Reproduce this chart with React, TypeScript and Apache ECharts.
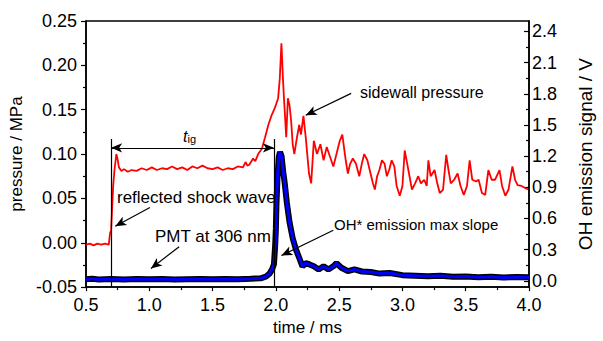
import React, { useEffect, useRef } from "react";
import * as echarts from "echarts";

// sidewall pressure (MPa) vs time (ms)
const redT = [0.5,0.53,0.56,0.59,0.62,0.65,0.68,0.688,0.692,0.698,0.705,0.715,0.725,0.74,0.75,0.76,0.78,0.8,0.83,0.86,0.9,0.94,0.98,1.02,1.06,1.1,1.14,1.18,1.22,1.26,1.3,1.34,1.38,1.42,1.46,1.5,1.54,1.58,1.62,1.66,1.7,1.74,1.76,1.775,1.79,1.82,1.838,1.86,1.89,1.915,1.941,1.967,1.992,2.018,2.031,2.044,2.056,2.064,2.082,2.095,2.108,2.121,2.133,2.146,2.167,2.185,2.198,2.218,2.236,2.262,2.279,2.3,2.325,2.352,2.377,2.402,2.428,2.454,2.479,2.505,2.525,2.552,2.569,2.587,2.608,2.633,2.659,2.679,2.698,2.723,2.748,2.767,2.782,2.8,2.818,2.838,2.859,2.877,2.895,2.915,2.936,2.954,2.979,3.0,3.018,3.038,3.056,3.075,3.1,3.125,3.146,3.172,3.192,3.205,3.223,3.254,3.275,3.295,3.321,3.346,3.364,3.382,3.408,3.436,3.459,3.485,3.51,3.531,3.552,3.582,3.602,3.628,3.654,3.679,3.705,3.731,3.767,3.787,3.813,3.838,3.869,3.89,3.91,3.941,3.967,3.992];
const redP = [-0.002,-0.001,-0.003,-0.001,-0.002,-0.001,-0.002,0.008,0.012,0.013,0.035,0.065,0.082,0.1,0.094,0.085,0.081,0.083,0.08,0.082,0.081,0.084,0.082,0.085,0.082,0.084,0.083,0.086,0.083,0.085,0.082,0.086,0.084,0.087,0.084,0.083,0.085,0.082,0.084,0.083,0.086,0.085,0.091,0.087,0.088,0.095,0.092,0.1,0.106,0.119,0.133,0.144,0.152,0.163,0.185,0.225,0.185,0.163,0.119,0.163,0.155,0.137,0.111,0.1,0.119,0.133,0.122,0.143,0.119,0.078,0.067,0.115,0.1,0.111,0.093,0.108,0.097,0.086,0.1,0.115,0.122,0.093,0.078,0.089,0.095,0.089,0.075,0.089,0.1,0.093,0.078,0.067,0.06,0.075,0.082,0.093,0.089,0.075,0.082,0.093,0.086,0.064,0.053,0.064,0.104,0.089,0.075,0.06,0.067,0.075,0.067,0.071,0.064,0.093,0.075,0.082,0.067,0.056,0.06,0.099,0.082,0.067,0.071,0.078,0.064,0.054,0.064,0.093,0.071,0.069,0.071,0.056,0.054,0.082,0.071,0.071,0.082,0.064,0.053,0.06,0.086,0.071,0.065,0.064,0.062,0.06];

// PMT OH* emission signal (V) vs time (ms)
const blueT = [0.5,0.55,0.6,0.7,0.8,0.9,1.0,1.1,1.2,1.3,1.4,1.5,1.6,1.7,1.8,1.88,1.92,1.95,1.97,1.985,1.995,2.0,2.005,2.013,2.023,2.033,2.045,2.058,2.069,2.087,2.108,2.133,2.159,2.185,2.21,2.236,2.262,2.3,2.338,2.377,2.415,2.454,2.479,2.518,2.569,2.621,2.68,2.75,2.82,2.9,3.0,3.1,3.2,3.3,3.4,3.5,3.6,3.7,3.8,3.9,4.0];
const blueV = [0.015,0.02,0.013,0.017,0.014,0.018,0.015,0.017,0.014,0.016,0.018,0.015,0.017,0.016,0.02,0.025,0.04,0.07,0.11,0.16,0.35,0.5,0.75,1.0,1.19,1.24,1.2,1.05,0.95,0.75,0.565,0.41,0.3,0.22,0.14,0.17,0.16,0.14,0.11,0.14,0.11,0.14,0.17,0.126,0.094,0.11,0.09,0.085,0.07,0.075,0.055,0.05,0.045,0.05,0.04,0.042,0.035,0.04,0.033,0.037,0.035];

const xTicks = { min: 0.5, max: 4.0, interval: 0.5 };
const leftTicks = { min: -0.05, max: 0.25, interval: 0.05 };
const rightRange = { min: -0.06, max: 2.5 };
const rightMajor = [0, 0.3, 0.6, 0.9, 1.2, 1.5, 1.8, 2.1, 2.4];
const rightMinor = [0.15, 0.45, 0.75, 1.05, 1.35, 1.65, 1.95, 2.25];

// annotation geometry in data coordinates (time ms, pressure MPa)
const tigStart = 0.698;
const tigEnd = 1.985;
const tigTop = 0.117;
const tigArrowY = 0.107;
const arrows = [
  { from: [1.005, 0.0397], to: [0.731, 0.0187] },
  { from: [1.236, -0.0044], to: [1.013, -0.029] },
  { from: [2.595, 0.1684], to: [2.236, 0.1438] },
  { from: [2.454, 0.014], to: [2.044, -0.0144] },
];

const FONT = "Liberation Sans";

export default function App() {
  const ref = useRef<HTMLDivElement>(null);
  useEffect(() => {
    if (!ref.current) return;
    const chart = echarts.init(ref.current, null, { renderer: "svg" });
    const red = redT.map((t, i) => [t, redP[i]]);
    const blue = blueT.map((t, i) => [t, blueV[i]]);
    const lineStyleBlack = { color: "#000", width: 1.2, type: "solid" as const };
    const markData: any[] = [
      [{ coord: [tigStart, tigTop], symbol: "none" }, { coord: [tigStart, leftTicks.min], symbol: "none" }],
      [{ coord: [tigEnd, tigTop], symbol: "none" }, { coord: [tigEnd, leftTicks.min], symbol: "none" }],
      [{ coord: [tigStart, tigArrowY], symbol: "arrow" }, { coord: [tigEnd, tigArrowY], symbol: "arrow" }],
      ...arrows.map((a) => [
        { coord: a.from, symbol: "none" },
        { coord: a.to, symbol: "arrow" },
      ]),
    ];
    const axisLineStyle = { color: "#000", width: 1.5 };
    chart.setOption({
      animation: false,
      backgroundColor: "#fff",
      textStyle: { fontFamily: FONT },
      grid: {
        left: 86,
        right: 62,
        top: 21,
        bottom: 48,
        show: true,
        borderColor: "#000",
        borderWidth: 1.5,
        backgroundColor: "transparent",
      },
      xAxis: {
        type: "value",
        min: xTicks.min,
        max: xTicks.max,
        interval: xTicks.interval,
        name: "time / ms",
        nameLocation: "middle",
        nameGap: 31,
        nameTextStyle: { fontSize: 17, color: "#000", fontFamily: FONT },
        axisLine: { onZero: false, lineStyle: axisLineStyle },
        axisTick: { show: true, length: 4, lineStyle: { color: "#000", width: 1.2 } },
        minorTick: { show: true, splitNumber: 2, length: 3, lineStyle: { color: "#000", width: 1.2 } },
        splitLine: { show: false },
        axisLabel: {
          fontSize: 18,
          color: "#000",
          fontFamily: FONT,
          margin: 9,
          formatter: (v: number) => v.toFixed(1),
        },
      },
      yAxis: [
        {
          type: "value",
          position: "left",
          min: leftTicks.min,
          max: leftTicks.max,
          interval: leftTicks.interval,
          name: "pressure / MPa",
          nameLocation: "middle",
          nameGap: 57,
          nameTextStyle: { fontSize: 17, color: "#000", fontFamily: FONT },
          axisLine: { show: true, onZero: false, lineStyle: axisLineStyle },
          axisTick: { show: true, length: 5, lineStyle: { color: "#000", width: 1.2 } },
          minorTick: { show: true, splitNumber: 2, length: 3, lineStyle: { color: "#000", width: 1.2 } },
          splitLine: { show: false },
          axisLabel: {
            fontSize: 18,
            color: "#000",
            fontFamily: FONT,
            margin: 9,
            formatter: (v: number) => v.toFixed(2),
          },
        },
        {
          type: "value",
          position: "right",
          min: rightRange.min,
          max: rightRange.max,
          name: "OH emission signal / V",
          nameLocation: "middle",
          nameGap: 47,
          nameRotate: 90,
          nameTextStyle: { fontSize: 19, color: "#000", fontFamily: FONT },
          axisLine: { show: true, onZero: false, lineStyle: axisLineStyle },
          axisTick: {
            show: true,
            inside: true,
            length: 5,
            customValues: rightMajor,
            lineStyle: { color: "#000", width: 1.2 },
          },
          splitLine: { show: false },
          axisLabel: {
            fontSize: 18,
            color: "#000",
            fontFamily: FONT,
            margin: 3,
            customValues: rightMajor,
            formatter: (v: number) => v.toFixed(1),
          },
        },
        {
          type: "value",
          position: "right",
          min: rightRange.min,
          max: rightRange.max,
          axisLine: { show: false },
          axisTick: {
            show: true,
            inside: true,
            length: 3,
            customValues: rightMinor,
            lineStyle: { color: "#000", width: 1.2 },
          },
          splitLine: { show: false },
          axisLabel: { show: false, customValues: rightMinor },
        },
      ],
      series: [
        {
          type: "line",
          yAxisIndex: 1,
          data: blue,
          showSymbol: false,
          symbol: "none",
          silent: true,
          lineStyle: { color: "#000", width: 6 },
          z: 2,
        },
        {
          type: "line",
          yAxisIndex: 1,
          data: blue,
          showSymbol: false,
          symbol: "none",
          silent: true,
          lineStyle: { color: "#0000ff", width: 3 },
          z: 3,
        },
        {
          type: "line",
          yAxisIndex: 0,
          data: red,
          showSymbol: false,
          symbol: "none",
          silent: true,
          lineStyle: { color: "#ff0000", width: 1.8 },
          z: 4,
          markLine: {
            silent: true,
            symbolSize: [7, 11],
            label: { show: false },
            lineStyle: lineStyleBlack,
            emphasis: { disabled: true },
            data: markData,
            z: 6,
          },
        },
      ],
      graphic: [
        {
          type: "text",
          left: 117,
          top: 189,
          style: { text: "reflected shock wave", font: `17px '${FONT}'`, fill: "#000" },
          z: 10,
        },
        {
          type: "text",
          left: 155,
          top: 228,
          style: { text: "PMT at 306 nm", font: `17px '${FONT}'`, fill: "#000" },
          z: 10,
        },
        {
          type: "text",
          left: 360,
          top: 84,
          style: { text: "sidewall pressure", font: `16px '${FONT}'`, fill: "#000" },
          z: 10,
        },
        {
          type: "text",
          left: 334,
          top: 217,
          style: { text: "OH* emission max slope", font: `15px '${FONT}'`, fill: "#000" },
          z: 10,
        },
        {
          type: "text",
          left: 183,
          top: 128,
          style: {
            text: "{t|t}{s|ig}",
            rich: {
              t: { fontSize: 16, fontStyle: "italic", fontFamily: FONT, fill: "#000", verticalAlign: "bottom" },
              s: { fontSize: 11, fontFamily: FONT, fill: "#000", padding: [6, 0, 0, 0] },
            },
          },
          z: 10,
        },
      ],
    });
    return () => chart.dispose();
  }, []);
  return (
    <div
      ref={ref}
      style={{ position: "fixed", left: 0, top: 0, width: 603, height: 341, background: "#fff" }}
    />
  );
}
